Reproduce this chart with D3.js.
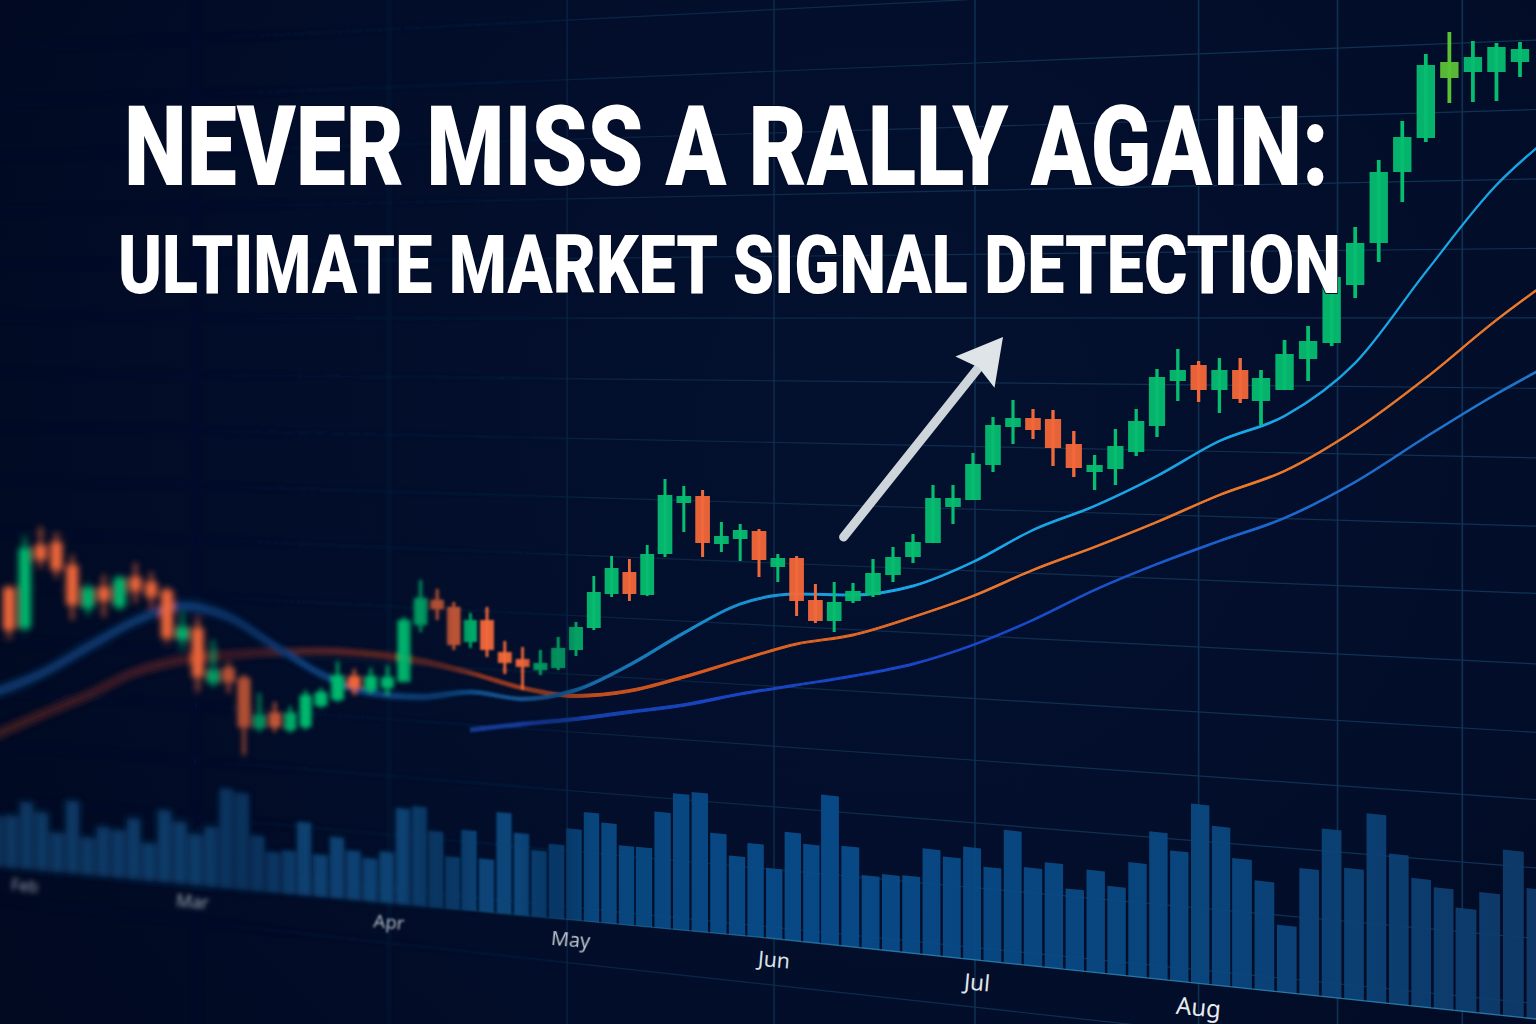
<!DOCTYPE html>
<html>
<head>
<meta charset="utf-8">
<script src="https://cdn.jsdelivr.net/npm/d3@7"></script>
<style>
  html, body { margin: 0; background: #010a24; }
  svg { display: block; }
</style>
</head>
<body>
<div id="chart"></div>
<script>
// price levels, one entry per candle
const candleOpen = [436,396,479,482,459,416,437,417,447,442,434,384,396,341,356,346,296,311,294,297,318,324,348,334,336,342,399,424,417,382,404,372,365,354,356,374,396,430,452,429,470,521,528,480,485,493,457,466,424,403,423,429,449,467,481,517,524,559,597,606,605,580,552,555,572,598,643,659,634,654,623,634,665,681,739,781,852,886,946,952,952,962];
const candleClose = [394,476,464,454,419,436,423,446,433,427,386,397,347,354,342,297,309,297,311,329,332,349,336,348,347,404,426,415,379,404,374,361,357,361,376,397,432,456,430,470,529,528,481,488,494,464,466,423,403,422,433,451,467,482,526,526,560,599,606,594,576,556,559,578,603,647,654,634,654,625,646,670,683,747,781,852,887,959,962,967,977,975];
const candleHigh = [439,487,497,491,469,441,449,449,461,452,437,411,406,384,361,349,331,322,318,334,336,362,355,356,358,407,444,435,422,411,417,383,377,374,387,402,448,468,465,479,545,538,534,502,500,495,470,468,440,442,441,465,477,490,539,539,571,607,624,615,614,593,569,595,615,655,675,663,666,666,654,684,698,766,797,864,903,970,992,983,981,982];
const candleLow = [386,392,456,446,404,409,407,414,421,417,381,376,333,337,331,269,292,292,291,294,316,322,329,331,329,342,392,404,374,376,367,350,334,349,354,368,394,427,423,428,467,492,467,472,463,447,442,408,401,392,421,427,442,461,481,500,524,552,580,585,558,547,534,539,568,587,623,622,611,621,599,634,643,678,726,762,822,882,921,922,923,947];
const signalCandle = 78;

// moving averages, read every third candle
const maIndex = [-1,2,5,8,11,14,17,20,23,26,29,32,35,38,41,44,47,50,53,56,59,62,65,68,71,74,77,80,82];
const maFast = [331,350,377,403,418,407,378,350,331,327,332,325,334,359,391,420,430,429,438,462,494,518,548,583,608,661,752,839,882];
const maMid = [288,309,329,352,364,369,372,373,370,363,351,336,328,333,347,364,380,389,407,428,454,477,502,529,553,594,646,704,739];
const maSlow = [294,300,305,312,319,330,339,348,360,379,404,434,460,483,506,542,587,630,656];
const maSlowIndex = maIndex.slice(maIndex.indexOf(29));

const volumes = [51,53,67,59,40,73,38,50,48,61,38,72,62,51,60,99,96,55,40,43,73,42,61,49,43,51,96,99,76,52,80,53,101,82,66,74,91,109,100,79,79,116,136,139,100,79,93,70,108,98,149,100,73,76,77,106,100,112,94,133,98,105,81,102,88,114,147,130,179,159,129,109,67,126,168,131,188,150,128,121,103,121,166,130];

const tickLabels = ["Feb","Mar","Apr","May","Jun","Jul","Aug"];
const tickCandles = [1,11.65,24.1,34.7,45.8,56.2,67];
const gridCandles = [11.9,24.1,34.5,45.8,56.1,67,73.25,78.55];
const gridLevels = [1026,962,898,834,770,706,641,577,514,452,387,324,262,199,134,74,14];
const titleLines = ["NEVER MISS A RALLY AGAIN:", "ULTIMATE MARKET SIGNAL DETECTION"];

const width = 1536, height = 1024;

// the screen is photographed at an angle, so candles get wider to the right
const x = d3.scaleLinear()
  .domain([0,10,20,30,40,50,60,70,81])
  .range([9,167,321,487,665,853,1053,1261,1520]);
const y = d3.scaleLinear().domain([0,1024]).range([height,0]);
const xVol = d3.scaleLinear()
  .domain([0,10,20,30,40,50,60,70,80,83])
  .range([-4,149,304,469,644,830,1033,1242,1466,1537]);
const volBase = d3.scaleLinear().domain([0,768,1536]).range([867,938,1019]);
const volHeight = d3.scaleLinear().domain([0,200]).range([0,200]);
const lineWidth = d3.scaleLinear().domain([0,250,500,800,1536]).range([9,7.5,3.4,1.7,1.7]);

const svg = d3.select("#chart").append("svg")
  .attr("width", width)
  .attr("height", height)
  .attr("viewBox", [0, 0, width, height]);
const defs = svg.append("defs");

function hGradient(id, stops) {
  const g = defs.append("linearGradient").attr("id", id)
    .attr("gradientUnits", "userSpaceOnUse")
    .attr("x1", 0).attr("x2", width).attr("y1", 0).attr("y2", 0);
  g.selectAll("stop").data(stops).join("stop")
    .attr("offset", d => d[0] / width)
    .attr("stop-color", d => d[1])
    .attr("stop-opacity", d => d[2] === undefined ? 1 : d[2]);
}

const bg = defs.append("radialGradient").attr("id", "bg")
  .attr("gradientUnits", "userSpaceOnUse")
  .attr("cx", 900).attr("cy", 420).attr("r", 1100);
bg.append("stop").attr("offset", 0).attr("stop-color", "#03112f");
bg.append("stop").attr("offset", 0.6).attr("stop-color", "#020d29");
bg.append("stop").attr("offset", 1).attr("stop-color", "#010920");

hGradient("fastStroke", [[0,"#0b3a70"],[300,"#0d3f7a"],[500,"#124f8a"],[700,"#1a8bcb"],[900,"#1aa8ea"],[1536,"#18a6e4"]]);
hGradient("midStroke", [[0,"#3d1c24"],[300,"#4a2026"],[450,"#702b22"],[560,"#b8481e"],[700,"#d9591f"],[1000,"#f0782a"],[1536,"#f27a2a"]]);
hGradient("slowStroke", [[470,"#123a92"],[700,"#1845c0"],[1000,"#1848cc"],[1300,"#1c6cd0"],[1536,"#1f7ad0"]]);
hGradient("volFill", [[0,"#0a3a66"],[400,"#094678"],[800,"#084c8a"],[1200,"#0a4880"],[1536,"#0e3b6a"]]);
hGradient("volEdge", [[0,"#0d4a7a",0],[500,"#1f6f9f",0.4],[900,"#2f8ab8",0.8],[1536,"#2f8ab8",0.8]]);
hGradient("gridStroke", [[0,"#0b2140",0.45],[500,"#0e2a4c",0.7],[1000,"#0f3152",0.95],[1536,"#0f3254",1]]);

svg.append("rect").attr("width", width).attr("height", height).attr("fill", "url(#bg)");

// depth of field: blur falls off from left to right
const blurLayers = [
  { id: "far", sd: 3, ramp: [[0,1],[200,1],[300,0]] },
  { id: "back", sd: 2, ramp: [[200,0],[300,1],[400,1],[480,0]] },
  { id: "near", sd: 0.9, ramp: [[400,0],[480,1],[520,1],[590,0]] },
  { id: "sharp", sd: 0, ramp: [[520,0],[590,1],[1536,1]] }
];
blurLayers.forEach(l => {
  hGradient("ramp-" + l.id, l.ramp.map(r => [r[0], "#fff", r[1]]));
  defs.append("mask").attr("id", "mask-" + l.id)
    .attr("maskUnits", "userSpaceOnUse")
    .attr("x", -50).attr("y", -50).attr("width", width + 100).attr("height", height + 100)
    .append("rect").attr("x", -50).attr("y", -50).attr("width", width + 100).attr("height", height + 100)
    .attr("fill", "url(#ramp-" + l.id + ")");
  if (l.sd > 0) {
    defs.append("filter").attr("id", "blur-" + l.id)
      .attr("filterUnits", "userSpaceOnUse")
      .attr("x", -50).attr("y", -50).attr("width", width + 100).attr("height", height + 100)
      .append("feGaussianBlur").attr("stdDeviation", l.sd);
  }
});

// blurred copies go underneath, the real marks live in the sharp layer
blurLayers.filter(l => l.sd > 0).forEach(l => {
  svg.append("g").attr("mask", "url(#mask-" + l.id + ")")
    .append("use").attr("href", "#scene").attr("filter", "url(#blur-" + l.id + ")");
});
const scene = svg.append("g").attr("mask", "url(#mask-sharp)")
  .append("g").attr("id", "scene");

// grid lines run towards a vanishing point far off to the left
const vanishX = -5300, vanishY = 320, gridRefX = 1000;
const gridPath = d3.line();
function gridY(level, px) {
  return vanishY + (y(level) - vanishY) * (px - vanishX) / (gridRefX - vanishX);
}
const grid = scene.append("g").attr("fill", "none").attr("stroke", "url(#gridStroke)").attr("stroke-width", 1.2);
grid.selectAll("path.h").data(gridLevels).join("path")
  .attr("class", "h")
  .attr("d", d => gridPath([[-20, gridY(d, -20)], [width + 20, gridY(d, width + 20)]]));
grid.selectAll("rect.v").data(gridCandles).join("rect")
  .attr("class", "v")
  .attr("fill", "url(#gridStroke)").attr("stroke", "none")
  .attr("x", d => x(d) - 0.8).attr("width", 1.6)
  .attr("y", 0).attr("height", height);

// volume bars sit on the tilted baseline
const volWidth = i => (xVol(i + 1) - xVol(i)) * 0.44;
scene.append("g").attr("fill", "url(#volFill)").attr("fill-opacity", 0.95)
  .selectAll("path").data(volumes).join("path")
  .attr("d", (d, i) => {
    const l = xVol(i) - volWidth(i), r = xVol(i) + volWidth(i), h = volHeight(d);
    return d3.line()([[l, volBase(l)], [r, volBase(r)], [r, volBase(r) - h], [l, volBase(l) - h]]) + "Z";
  });
scene.append("path")
  .attr("fill", "none").attr("stroke", "url(#volEdge)").attr("stroke-width", 1.3)
  .attr("d", d3.line().x(d => d).y(d => volBase(d))([0, 768, 1536]));

// moving averages: areas, so the width can taper with distance
function maArea(index, values, gradient) {
  const pts = index.map((i, k) => ({ i, v: values[k] }));
  const area = d3.area()
    .curve(d3.curveMonotoneX)
    .x(d => x(d.i))
    .y0(d => y(d.v) - lineWidth(x(d.i)) / 2)
    .y1(d => y(d.v) + lineWidth(x(d.i)) / 2);
  scene.append("path")
    .attr("d", area(pts))
    .attr("fill", "url(#" + gradient + ")")
    .attr("stroke", "url(#" + gradient + ")")
    .attr("stroke-width", 1.1);
}
maArea(maSlowIndex, maSlow, "slowStroke");
maArea(maIndex, maMid, "midStroke");
maArea(maIndex, maFast, "fastStroke");

// candles
const candles = candleOpen.map((o, i) => ({ i, o, c: candleClose[i], h: candleHigh[i], l: candleLow[i] }));
const candleColor = d => d.i === signalCandle ? "#5bc236" : (d.c >= d.o ? "#06bd70" : "#f2683a");
const candle = scene.append("g").selectAll("g").data(candles).join("g")
  .attr("fill", candleColor);
candle.append("rect")
  .attr("x", d => x(d.i) - (x(d.i + 1) - x(d.i)) * 0.08)
  .attr("width", d => (x(d.i + 1) - x(d.i)) * 0.16)
  .attr("y", d => y(d.h))
  .attr("height", d => y(d.l) - y(d.h));
candle.append("rect")
  .attr("x", d => x(d.i) - (x(d.i + 1) - x(d.i)) * 0.39)
  .attr("width", d => (x(d.i + 1) - x(d.i)) * 0.78)
  .attr("y", d => y(Math.max(d.o, d.c)))
  .attr("height", d => Math.abs(y(d.o) - y(d.c)))
  .attr("fill-opacity", 0.95);

// month labels: a normal axis, then each tick pushed onto the tilted baseline
const labelSize = d3.scaleLinear().domain([0,1200]).range([16,24]);
const labelGap = d3.scaleLinear().domain([0,1200]).range([16,24]);
const labelBlur = d3.scaleLinear().domain([24,193,389,570,773]).range([2.6,2,0.9,0.35,0]).clamp(true);
const labelFill = d3.scaleLinear().domain([24,389,570,773,1200]).range(["#8d97a3","#a8b2bd","#b8c1ca","#dde1e6","#e8ebef"]);
const axis = d3.axisBottom(x).tickValues(tickCandles).tickSize(0).tickFormat((d, i) => tickLabels[i]);
const axisG = svg.append("g").call(axis);
axisG.select(".domain").remove();
axisG.selectAll(".tick").attr("transform", d => {
  const px = x(d);
  return `translate(${px},${volBase(px) + labelGap(px)}) rotate(5)`;
});
axisG.selectAll(".tick text")
  .attr("y", 0).attr("dy", "0.35em")
  .attr("font-family", "'Noto Sans', sans-serif")
  .attr("font-size", d => labelSize(x(d)))
  .attr("fill", d => labelFill(x(d)))
  .style("filter", d => labelBlur(x(d)) > 0 ? `blur(${labelBlur(x(d))}px)` : null);

// arrow: start and tip in chart units, head worked out from the direction
const arrowStart = { i: 49.5, p: 487 }, arrowTip = { i: 57.5, p: 687 };
const ax0 = x(arrowStart.i), ay0 = y(arrowStart.p), ax1 = x(arrowTip.i), ay1 = y(arrowTip.p);
const len = Math.hypot(ax1 - ax0, ay1 - ay0);
const ux = (ax1 - ax0) / len, uy = (ay1 - ay0) / len;
const arrow = svg.append("g");
arrow.append("line")
  .attr("x1", ax0).attr("y1", ay0)
  .attr("x2", ax1 - 36 * ux).attr("y2", ay1 - 36 * uy)
  .attr("stroke", "#cdd4da").attr("stroke-width", 9).attr("stroke-linecap", "round");
arrow.append("path")
  .attr("fill", "#dfe4e9")
  .attr("d", d3.line()([
    [ax1, ay1],
    [ax1 - 45 * ux + 25 * uy, ay1 - 45 * uy - 25 * ux],
    [ax1 - 39 * ux, ay1 - 39 * uy],
    [ax1 - 45 * ux - 25 * uy, ay1 - 45 * uy + 25 * ux]
  ]) + "Z");

// headline: squeezed to a condensed width once the natural length is known
const title = svg.append("g")
  .attr("font-family", "Roboto, sans-serif")
  .attr("font-weight", 900)
  .attr("fill", "#ffffff")
  .style("paint-order", "stroke")
  .attr("stroke", "#020b24")
  .attr("stroke-width", 2)
  .attr("stroke-linejoin", "round");
[[titleLines[0], 124, 185, 112, 1205], [titleLines[1], 118, 293, 82, 1223]].forEach(([txt, tx, ty, size, w]) => {
  const t = title.append("text").text(txt).attr("font-size", size);
  t.attr("transform", `translate(${tx},${ty}) scale(${w / t.node().getComputedTextLength()},1)`);
});
</script>
</body>
</html>
